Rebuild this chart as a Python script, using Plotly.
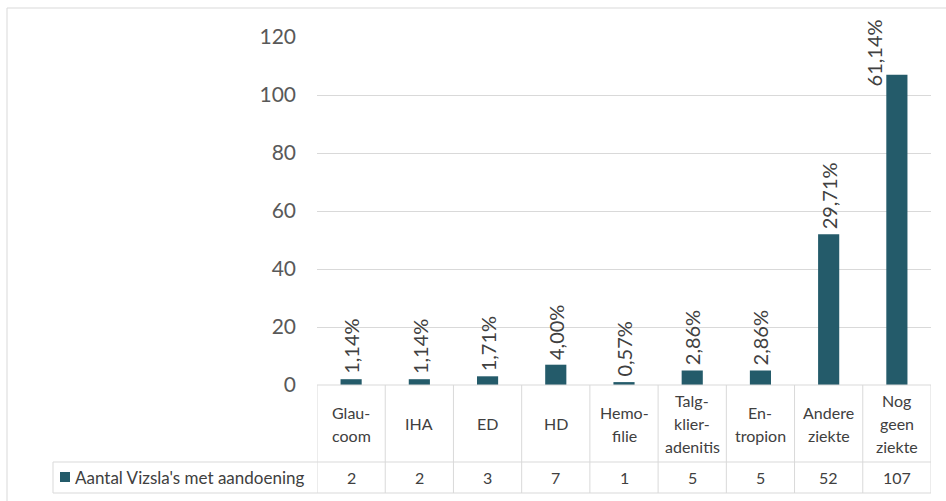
import plotly.graph_objects as go

# Aandoeningen bij Vizsla's (aantal honden per aandoening)
categories = ["Glaucoom", "IHA", "ED", "HD", "Hemofilie", "Talgklieradenitis",
              "Entropion", "Andere ziekte", "Nog geen ziekte"]
category_lines = [["Glau-", "coom"], ["IHA"], ["ED"], ["HD"], ["Hemo-", "filie"],
                  ["Talg-", "klier-", "adenitis"], ["En-", "tropion"],
                  ["Andere", "ziekte"], ["Nog", "geen", "ziekte"]]
counts = [2, 2, 3, 7, 1, 5, 5, 52, 107]
percent_labels = ["1,14%", "1,14%", "1,71%", "4,00%", "0,57%", "2,86%",
                  "2,86%", "29,71%", "61,14%"]
series_name = "Aantal Vizsla's met aandoening"
y_ticks = [0, 20, 40, 60, 80, 100, 120]

W, H = 946, 501
PL, PR, PT, PB = 317, 931, 37, 385  # plot area in pixels
BAR = "#245b6a"
GRID = "#d9d9d9"
TXT = "#404040"
FONT = "Lato, 'Open Sans', sans-serif"
Y_MAX = 120
PX_PER_UNIT = (PB - PT) / Y_MAX
LABEL_LEN = 70      # approx. pixel length of a rotated percentage label
LABEL_TOP = 17      # highest pixel row a label may reach


def px(xp):
    return (xp - PL) / (PR - PL)


def py(yp):
    return (PB - yp) / (PB - PT)


fig = go.Figure(go.Bar(
    x=categories, y=counts, marker_color=BAR, marker_line_width=0,
    name=series_name, showlegend=False,
))

shapes = []
line = dict(color=GRID, width=1)
# outer frame (top and left edges)
shapes.append(dict(type="line", xref="paper", yref="paper",
                   x0=px(7), x1=px(W), y0=py(8), y1=py(8), line=line))
shapes.append(dict(type="line", xref="paper", yref="paper",
                   x0=px(7), x1=px(7), y0=py(8), y1=py(H), line=line))

# data table beneath the axis
row1, row2 = 462, 493
shapes.append(dict(type="line", xref="paper", yref="paper",
                   x0=0, x1=1, y0=py(PB), y1=py(PB), line=line))
shapes.append(dict(type="line", xref="paper", yref="paper",
                   x0=px(53), x1=1, y0=py(row1), y1=py(row1), line=line))
shapes.append(dict(type="line", xref="paper", yref="paper",
                   x0=px(53), x1=1, y0=py(row2), y1=py(row2), line=line))
shapes.append(dict(type="line", xref="paper", yref="paper",
                   x0=px(53), x1=px(53), y0=py(row1), y1=py(row2), line=line))
for i in range(len(categories) + 1):
    shapes.append(dict(type="line", xref="x", yref="paper",
                       x0=i - 0.5, x1=i - 0.5, y0=py(PB), y1=py(row2), line=line))
# legend key in the table
shapes.append(dict(type="rect", xref="paper", yref="paper",
                   x0=px(60), x1=px(70), y0=py(482), y1=py(472),
                   fillcolor=BAR, line=dict(width=0)))

annotations = []
# rotated percentage labels above the bars; a label that would run past
# the top of the chart is moved beside the bar and kept inside the frame
for i, (c, t) in enumerate(zip(counts, percent_labels)):
    top_px = PB - c * PX_PER_UNIT - 5 - LABEL_LEN
    if top_px < LABEL_TOP:
        annotations.append(dict(x=categories[i], xref="x", y=py(LABEL_TOP),
                                yref="paper", yanchor="top", xshift=-22,
                                text=t, textangle=-90, showarrow=False,
                                font=dict(family=FONT, size=20, color=TXT)))
    else:
        annotations.append(dict(x=categories[i], xref="x", y=c, yref="y",
                                yanchor="bottom", yshift=3,
                                text=t, textangle=-90, showarrow=False,
                                font=dict(family=FONT, size=20, color=TXT)))

mid1 = (PB + row1) / 2
step = 23
for i, lines in enumerate(category_lines):
    n = len(lines)
    for j, t in enumerate(lines):
        yc = mid1 + (j - (n - 1) / 2) * step
        annotations.append(dict(x=categories[i], xref="x", y=py(yc), yref="paper",
                                text=t, showarrow=False, yanchor="middle",
                                font=dict(family=FONT, size=16, color=TXT)))
mid2 = (row1 + row2) / 2
for i, v in enumerate(counts):
    annotations.append(dict(x=categories[i], xref="x", y=py(mid2), yref="paper",
                            text=str(v), showarrow=False, yanchor="middle",
                            font=dict(family=FONT, size=16, color=TXT)))
annotations.append(dict(x=px(73), xref="paper", y=py(mid2), yref="paper",
                        text=series_name, showarrow=False, xanchor="left",
                        yanchor="middle", font=dict(family=FONT, size=17, color=TXT)))

fig.update_layout(
    width=W, height=H,
    margin=dict(l=PL, r=W - PR, t=PT, b=H - PB),
    paper_bgcolor="white", plot_bgcolor="white",
    bargap=0.69,
    xaxis=dict(showticklabels=False, showgrid=False, zeroline=False,
               showline=False, ticks="", range=[-0.5, len(categories) - 0.5]),
    yaxis=dict(range=[0, Y_MAX], tickvals=y_ticks, showgrid=True, gridcolor=GRID,
               gridwidth=1, zeroline=False, showline=False, ticks="",
               ticklabelstandoff=20,
               tickfont=dict(family=FONT, size=21, color="#595959")),
    shapes=shapes, annotations=annotations,
)

fig.write_html("out.html")
